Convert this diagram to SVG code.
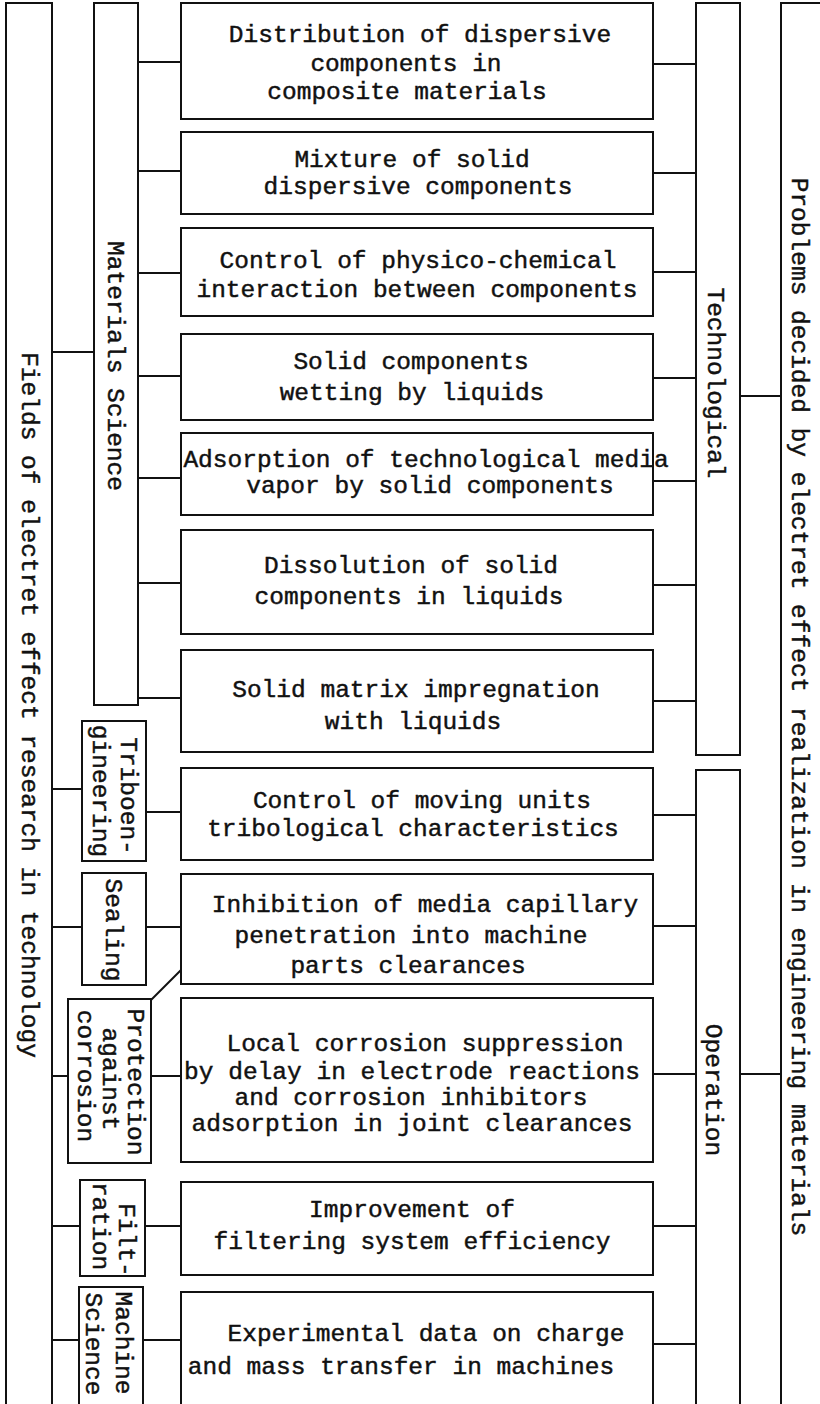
<svg xmlns="http://www.w3.org/2000/svg" width="820" height="1404" viewBox="0 0 820 1404">
  <style>
    .bx { fill: #fff; stroke: #111; stroke-width: 2; }
    .ob { fill: none; stroke: #111; stroke-width: 2; }
    .cn { fill: none; stroke: #111; stroke-width: 2; }
    text { font-family: "Liberation Mono", "Courier New", monospace; font-size: 24.5px; fill: #111; stroke: #111; stroke-width: 0.45; }
    .m { text-anchor: middle; }
  </style>
  <rect width="820" height="1404" fill="#fff"/>

  <!-- connectors -->
  <g id="connectors">
    <path class="cn" d="M52,352H94 M52,789H82 M52,927H82 M52,1076H68 M52,1226H80 M52,1340H79"/>
    <path class="cn" d="M138,62H181 M138,171H181 M138,273H181 M138,376H181 M138,478H181 M138,583H181 M138,698H181"/>
    <path class="cn" d="M653,64H696 M653,173H696 M653,272H696 M653,378H696 M653,481H696 M653,585H696 M653,701H696"/>
    <path class="cn" d="M740,396H781 M740,1074H781"/>
    <path class="cn" d="M146,812H181 M146,927H181 M151,1076H181 M145,1226H181 M143,1340H181"/>
    <path class="cn" d="M151,1000L181,970"/>
    <path class="cn" d="M653,815H696 M653,926H696 M653,1074H696 M653,1226H696 M653,1344H696"/>
  </g>

  <!-- outer left bar -->
  <g id="fields">
    <path class="ob" d="M6,1410V3H52V1410"/>
    <text class="m" transform="translate(22,705) rotate(90)">Fields of electret effect research in technology</text>
  </g>

  <!-- outer right bar -->
  <g id="problems">
    <path class="ob" d="M781,1410V3H822"/>
    <text class="m" transform="translate(792,707) rotate(90)">Problems decided by electret effect realization in engineering materials</text>
  </g>

  <g id="materials-science">
    <rect class="bx" x="94" y="3" width="44" height="702"/>
    <text class="m" transform="translate(108,366) rotate(90)">Materials Science</text>
  </g>

  <g id="technological">
    <rect class="bx" x="696" y="3" width="44" height="752"/>
    <text class="m" transform="translate(708,383) rotate(90)">Technological</text>
  </g>

  <g id="operation">
    <path class="ob" d="M696,1410V770H740V1410"/>
    <text class="m" transform="translate(706,1090) rotate(90)">Operation</text>
  </g>

  <!-- side categories -->
  <g id="triboengineering">
    <rect class="bx" x="82" y="721" width="64" height="140"/>
    <text class="m" transform="translate(121,796) rotate(90)">Triboen-</text>
    <text class="m" transform="translate(93,791) rotate(90)">gineering</text>
  </g>

  <g id="sealing">
    <rect class="bx" x="82" y="873" width="64" height="112"/>
    <text class="m" transform="translate(106,930) rotate(90)">Sealing</text>
  </g>

  <g id="protection">
    <rect class="bx" x="68" y="999" width="83" height="164"/>
    <text class="m" transform="translate(128,1082) rotate(90)">Protection</text>
    <text class="m" transform="translate(103,1079) rotate(90)">against</text>
    <text class="m" transform="translate(78,1076) rotate(90)">corrosion</text>
  </g>

  <g id="filtration">
    <rect class="bx" x="80" y="1180" width="65" height="96"/>
    <text class="m" transform="translate(119,1240) rotate(90)">Filt-</text>
    <text class="m" transform="translate(93,1226) rotate(90)">ration</text>
  </g>

  <g id="machine-science">
    <path class="ob" d="M79,1410V1287H143V1410"/>
    <text class="m" transform="translate(116,1343) rotate(90)">Machine</text>
    <text class="m" transform="translate(86,1344) rotate(90)">Science</text>
  </g>

  <!-- problem boxes -->
  <g id="distribution">
    <rect class="bx" x="181" y="3" width="472" height="116"/>
    <text class="m" x="420" y="42">Distribution of dispersive</text>
    <text class="m" x="406" y="71">components in</text>
    <text class="m" x="407" y="99">composite materials</text>
  </g>

  <g id="mixture">
    <rect class="bx" x="181" y="132" width="472" height="82"/>
    <text class="m" x="412" y="167">Mixture of solid</text>
    <text class="m" x="418" y="194">dispersive components</text>
  </g>

  <g id="interaction">
    <rect class="bx" x="181" y="228" width="472" height="88"/>
    <text class="m" x="418" y="268">Control of physico-chemical</text>
    <text class="m" x="417" y="297">interaction between components</text>
  </g>

  <g id="wetting">
    <rect class="bx" x="181" y="334" width="472" height="86"/>
    <text class="m" x="411" y="369">Solid components</text>
    <text class="m" x="412" y="400">wetting by liquids</text>
  </g>

  <g id="adsorption">
    <rect class="bx" x="181" y="433" width="472" height="82"/>
    <text class="m" x="426" y="467">Adsorption of technological media</text>
    <text class="m" x="430" y="493">vapor by solid components</text>
  </g>

  <g id="dissolution">
    <rect class="bx" x="181" y="530" width="472" height="104"/>
    <text class="m" x="411" y="573">Dissolution of solid</text>
    <text class="m" x="409" y="604">components in liquids</text>
  </g>

  <g id="impregnation">
    <rect class="bx" x="181" y="650" width="472" height="102"/>
    <text class="m" x="416" y="697">Solid matrix impregnation</text>
    <text class="m" x="413" y="729">with liquids</text>
  </g>

  <g id="tribology">
    <rect class="bx" x="181" y="768" width="472" height="92"/>
    <text class="m" x="422" y="808">Control of moving units</text>
    <text class="m" x="413" y="836">tribological characteristics</text>
  </g>

  <g id="capillary">
    <rect class="bx" x="181" y="874" width="472" height="110"/>
    <text class="m" x="425" y="912">Inhibition of media capillary</text>
    <text class="m" x="411" y="943">penetration into machine</text>
    <text class="m" x="408" y="973">parts clearances</text>
  </g>

  <g id="corrosion">
    <rect class="bx" x="181" y="998" width="472" height="164"/>
    <text class="m" x="425" y="1051">Local corrosion suppression</text>
    <text class="m" x="412" y="1079">by delay in electrode reactions</text>
    <text class="m" x="411" y="1105">and corrosion inhibitors</text>
    <text class="m" x="412" y="1131">adsorption in joint clearances</text>
  </g>

  <g id="filtering">
    <rect class="bx" x="181" y="1182" width="472" height="93"/>
    <text class="m" x="412" y="1217">Improvement of</text>
    <text class="m" x="412" y="1249">filtering system efficiency</text>
  </g>

  <g id="transfer">
    <path class="ob" d="M181,1410V1292H653V1410"/>
    <text class="m" x="426" y="1341">Experimental data on charge</text>
    <text class="m" x="401" y="1374">and mass transfer in machines</text>
  </g>
</svg>
